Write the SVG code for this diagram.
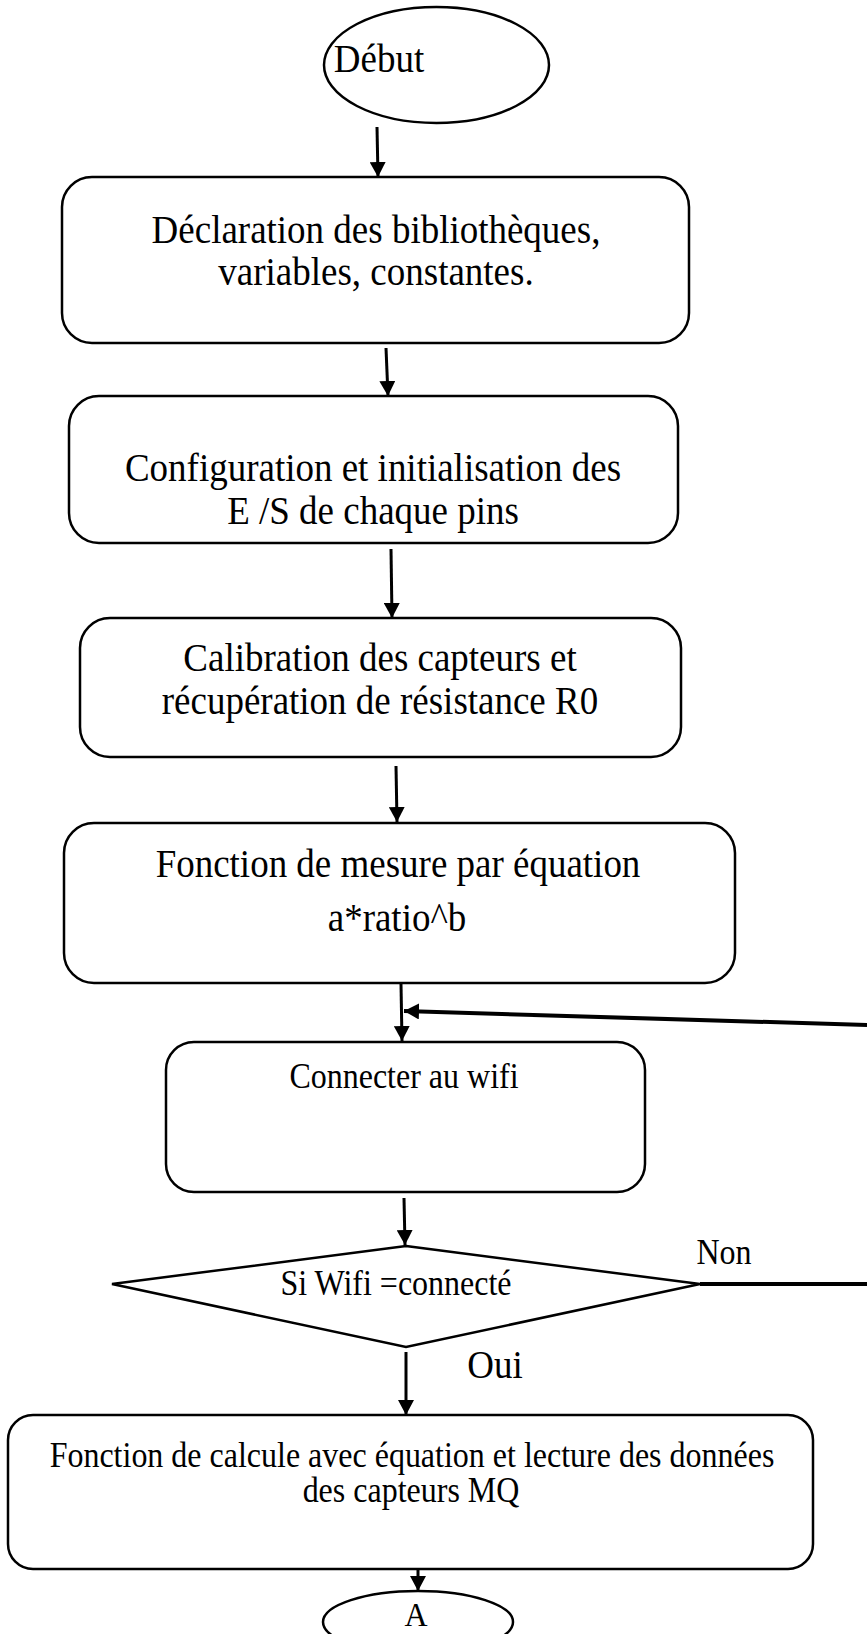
<svg xmlns="http://www.w3.org/2000/svg" width="867" height="1634" viewBox="0 0 867 1634">
  <style>
    .shape { fill: #ffffff; stroke: #000000; stroke-width: 2.5; }
    .txt { font-family: "Liberation Serif", "Times New Roman", serif; fill: #000000; text-anchor: middle; }
    .big { font-size: 37px; }
    .mid { font-size: 32px; }
    .conn { stroke: #000000; stroke-width: 3; fill: none; }
    .thick { stroke: #000000; stroke-width: 4; fill: none; }
  </style>
  <defs>
    <marker id="arrow" viewBox="0 0 15 16" refX="15" refY="8" markerWidth="15" markerHeight="16" markerUnits="userSpaceOnUse" orient="auto">
      <path d="M0,0 L15,8 L0,16 z" fill="#000000"/>
    </marker>
  </defs>
  <rect width="867" height="1634" fill="#ffffff"/>

  <g id="debut">
    <ellipse class="shape" cx="436.5" cy="65" rx="112.5" ry="58"/>
    <text class="txt big" transform="translate(379,72) scale(1,1.1)">Début</text>
  </g>

  <g id="declaration">
    <rect class="shape" x="62" y="177" width="627" height="166" rx="30" ry="30"/>
    <text class="txt big" transform="translate(376,243) scale(1,1.1)">Déclaration des bibliothèques,</text>
    <text class="txt big" transform="translate(376,285) scale(1,1.1)">variables, constantes.</text>
  </g>

  <g id="configuration">
    <rect class="shape" x="69" y="396" width="609" height="147" rx="30" ry="30"/>
    <text class="txt big" transform="translate(373,481) scale(1,1.1)">Configuration et initialisation des</text>
    <text class="txt big" transform="translate(373,524) scale(1,1.1)">E /S de chaque pins</text>
  </g>

  <g id="calibration">
    <rect class="shape" x="80" y="618" width="601" height="139" rx="30" ry="30"/>
    <text class="txt big" transform="translate(380,671) scale(1,1.1)">Calibration des capteurs et</text>
    <text class="txt big" transform="translate(380,714) scale(1,1.1)">récupération de résistance R0</text>
  </g>

  <g id="mesure">
    <rect class="shape" x="64" y="823" width="671" height="160" rx="30" ry="30"/>
    <text class="txt big" transform="translate(398,877) scale(1,1.1)">Fonction de mesure par équation</text>
    <text class="txt big" transform="translate(397,931) scale(1,1.1)">a*ratio^b</text>
  </g>

  <g id="wifi">
    <rect class="shape" x="166" y="1042" width="479" height="150" rx="28" ry="28"/>
    <text class="txt mid" transform="translate(404,1088) scale(1,1.1)">Connecter au wifi</text>
  </g>

  <g id="decision">
    <polygon class="shape" points="406,1246 700,1284 406,1347 112,1284"/>
    <text class="txt mid" transform="translate(396,1295) scale(1,1.1)">Si Wifi =connecté</text>
  </g>

  <g id="calcul">
    <rect class="shape" x="8" y="1415" width="805" height="154" rx="25" ry="25"/>
    <text class="txt mid" transform="translate(412,1467) scale(1,1.1)">Fonction de calcule avec équation et lecture des données</text>
    <text class="txt mid" transform="translate(411,1502) scale(1,1.1)">des capteurs MQ</text>
  </g>

  <g id="fin-a">
    <ellipse class="shape" cx="418" cy="1622" rx="95" ry="31"/>
    <text class="txt mid" transform="translate(416,1626) scale(1,1.05)">A</text>
  </g>

  <g id="labels">
    <text class="txt mid" transform="translate(724,1264) scale(1,1.1)">Non</text>
    <text class="txt big" transform="translate(495,1378) scale(1,1.1)">Oui</text>
  </g>

  <g id="connectors">
    <line class="conn" x1="377" y1="127" x2="378" y2="177" marker-end="url(#arrow)"/>
    <line class="conn" x1="386" y1="348" x2="388" y2="396" marker-end="url(#arrow)"/>
    <line class="conn" x1="391" y1="549" x2="392" y2="618" marker-end="url(#arrow)"/>
    <line class="conn" x1="396" y1="766" x2="397" y2="822" marker-end="url(#arrow)"/>
    <line class="conn" x1="401" y1="984" x2="402" y2="1041" marker-end="url(#arrow)"/>
    <line class="thick" x1="867" y1="1025" x2="404" y2="1011" marker-end="url(#arrow)"/>
    <line class="conn" x1="404" y1="1198" x2="405" y2="1245" marker-end="url(#arrow)"/>
    <line class="thick" x1="700" y1="1284" x2="867" y2="1284"/>
    <line class="conn" x1="406" y1="1352" x2="406" y2="1415" marker-end="url(#arrow)"/>
    <line class="conn" x1="418" y1="1570" x2="418" y2="1591" marker-end="url(#arrow)"/>
  </g>
</svg>
